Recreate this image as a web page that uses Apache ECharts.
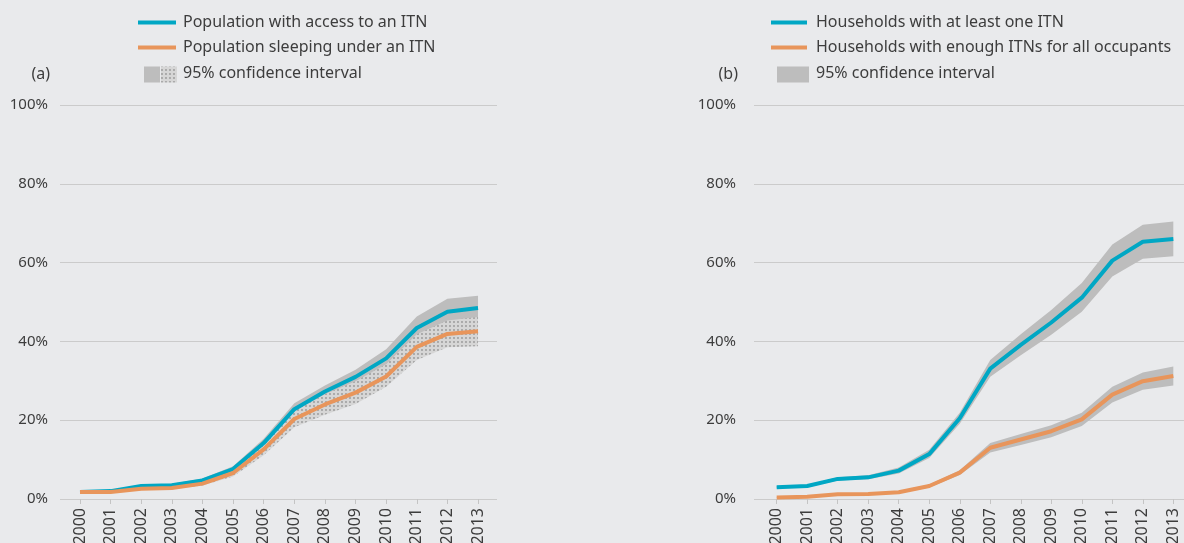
<!DOCTYPE html>
<html>
<head>
<meta charset="utf-8">
<script src="https://cdn.jsdelivr.net/npm/echarts@6/dist/echarts.min.js"></script>
<style>
  html, body { margin: 0; padding: 0; background: #e9eaec; }
  #main { width: 1184px; height: 543px; }
</style>
</head>
<body>
<div id="main"></div>
<script>
// years on the x axis
var years = [2000, 2001, 2002, 2003, 2004, 2005, 2006, 2007, 2008, 2009, 2010, 2011, 2012, 2013];

// (a) population with access / sleeping under an ITN, %
var access     = [1.8, 2.0, 3.3, 3.5, 4.7, 7.6, 14.2, 22.8, 27.3, 31.0, 35.7, 43.4, 47.5, 48.5];
var accessLow  = [1.5, 1.7, 3.0, 3.1, 4.2, 6.9, 13.1, 21.3, 25.8, 29.2, 33.4, 40.5, 44.2, 45.4];
var accessHigh = [2.1, 2.3, 3.6, 3.9, 5.2, 8.3, 15.3, 24.3, 28.8, 32.8, 38.0, 46.3, 50.8, 51.6];
var sleep      = [1.8, 1.8, 2.6, 2.8, 3.9, 6.6, 12.6, 20.3, 24.0, 27.0, 31.1, 38.6, 41.9, 42.6];
var sleepLow   = [1.6, 1.6, 2.3, 2.5, 3.4, 5.7, 11.1, 18.2, 21.4, 24.1, 28.5, 35.3, 38.5, 38.8];
var sleepHigh  = [2.0, 2.0, 2.9, 3.1, 4.4, 7.5, 14.1, 22.4, 26.6, 29.9, 34.2, 41.8, 45.3, 46.2];

// (b) households with at least one ITN / enough ITNs, %
var hhOne       = [3.0, 3.3, 5.1, 5.5, 7.2, 11.4, 20.5, 33.1, 39.1, 44.8, 51.1, 60.5, 65.3, 66.0];
var hhOneLow    = [2.7, 3.0, 4.7, 5.0, 6.5, 10.4, 19.1, 31.0, 36.5, 41.7, 47.5, 56.5, 61.0, 61.6];
var hhOneHigh   = [3.3, 3.6, 5.5, 6.0, 8.0, 12.5, 21.9, 35.3, 41.8, 48.0, 54.8, 64.6, 69.6, 70.4];
var hhEnough     = [0.4, 0.6, 1.2, 1.3, 1.7, 3.3, 6.7, 13.0, 15.1, 17.2, 20.2, 26.5, 29.9, 31.2];
var hhEnoughLow  = [0.3, 0.5, 1.0, 1.1, 1.4, 2.9, 6.1, 11.8, 13.7, 15.7, 18.5, 24.5, 27.7, 28.8];
var hhEnoughHigh = [0.5, 0.7, 1.4, 1.5, 2.0, 3.7, 7.3, 14.2, 16.5, 18.7, 21.9, 28.5, 32.1, 33.6];

var BLUE = '#00a7c4';
var ORANGE = '#e8955b';
var BAND = '#bdbdbd';
var TEXT = '#3d3d3d';
var FONT = '"Noto Sans", sans-serif';

// dotted fill for the sleeping-under-ITN band
var dotCanvas = document.createElement('canvas');
dotCanvas.width = 4; dotCanvas.height = 4;
var dc = dotCanvas.getContext('2d');
dc.fillStyle = '#d6d6d6';
dc.fillRect(0, 0, 4, 4);
dc.fillStyle = '#a0a0a0';
dc.beginPath(); dc.arc(2, 2, 1.05, 0, Math.PI * 2); dc.fill();
var dots = { image: dotCanvas, repeat: 'repeat' };

function pairs(vals) {
  return years.map(function (y, i) { return [y, vals[i]]; });
}
// confidence band as one polygon, placed through the axis scales
function band(idx, lo, hi, fill) {
  return {
    type: 'custom', xAxisIndex: idx, yAxisIndex: idx, silent: true, z: 1,
    data: years.map(function (y, i) { return [y, lo[i], hi[i]]; }),
    encode: { x: 0, y: [1, 2] },
    renderItem: function (params, api) {
      if (params.dataIndex !== 0) return null;
      var pts = [];
      for (var i = 0; i < years.length; i++) pts.push(api.coord([years[i], hi[i]]));
      for (var j = years.length - 1; j >= 0; j--) pts.push(api.coord([years[j], lo[j]]));
      return { type: 'polygon', shape: { points: pts }, style: { fill: fill } };
    }
  };
}
function line(idx, vals, color) {
  return { type: 'line', xAxisIndex: idx, yAxisIndex: idx, data: pairs(vals), symbol: 'none',
    lineStyle: { color: color, width: 4 }, z: 3 };
}
function xAxis(idx, min, max) {
  return {
    type: 'value', gridIndex: idx, min: min, max: max,
    axisLine: { show: false },
    splitLine: { show: false },
    axisTick: { show: true, customValues: years, length: 5, lineStyle: { color: '#c4c4c4' } },
    axisLabel: { customValues: years, rotate: 90, margin: 9, color: TEXT, fontSize: 16, fontFamily: FONT,
      formatter: function (v) { return String(v); } }
  };
}
function yAxis(idx, margin) {
  return {
    type: 'value', gridIndex: idx, min: 0, max: 100, interval: 20,
    axisLine: { show: false }, axisTick: { show: false },
    axisLabel: { formatter: '{value}%', margin: margin, color: TEXT, fontSize: 15, fontFamily: FONT },
    splitLine: { lineStyle: { color: '#cbcbcb', width: 1 } }
  };
}
function txt(x, y, s, align) {
  return { type: 'text', x: x, y: y, style: { text: s, fill: TEXT, font: '16px ' + FONT,
    textAlign: align || 'left', textVerticalAlign: 'middle' } };
}
function legLine(x1, x2, y, color) {
  return { type: 'line', shape: { x1: x1, y1: y, x2: x2, y2: y }, style: { stroke: color, lineWidth: 4 } };
}

var myChart = echarts.init(document.getElementById('main'));
var option = {
  backgroundColor: '#e9eaec',
  animation: false,
  grid: [
    { left: 60, width: 437, top: 105, bottom: 44, outerBoundsMode: 'none', containLabel: false },
    { left: 754, right: 0, top: 105, bottom: 44, outerBoundsMode: 'none', containLabel: false }
  ],
  xAxis: [xAxis(0, 1999.347, 2013.62), xAxis(1, 1999.256, 2013.35)],
  yAxis: [yAxis(0, 12), yAxis(1, 18)],
  series: [
    band(0, accessLow, accessHigh, BAND),
    band(0, sleepLow, sleepHigh, dots),
    band(1, hhOneLow, hhOneHigh, BAND),
    band(1, hhEnoughLow, hhEnoughHigh, BAND),
    line(0, access, BLUE), line(0, sleep, ORANGE), line(1, hhOne, BLUE), line(1, hhEnough, ORANGE)
  ],
  graphic: [
    legLine(138, 176, 22.5, BLUE),
    legLine(138, 176, 47.5, ORANGE),
    { type: 'rect', shape: { x: 144, y: 66.5, width: 16, height: 16 }, style: { fill: BAND } },
    { type: 'rect', shape: { x: 161, y: 66.5, width: 16, height: 16 }, style: { fill: dots } },
    txt(183, 22, 'Population with access to an ITN'),
    txt(183, 47, 'Population sleeping under an ITN'),
    txt(183, 73, '95% confidence interval'),
    txt(50, 74, '(a)', 'right'),
    legLine(771, 807, 22.5, BLUE),
    legLine(771, 807, 47.5, ORANGE),
    { type: 'rect', shape: { x: 777, y: 66.5, width: 32, height: 16 }, style: { fill: BAND } },
    txt(816, 22, 'Households with at least one ITN'),
    txt(816, 47, 'Households with enough ITNs for all occupants'),
    txt(816, 73, '95% confidence interval'),
    txt(738, 74, '(b)', 'right')
  ]
};
myChart.setOption(option);
</script>
</body>
</html>
